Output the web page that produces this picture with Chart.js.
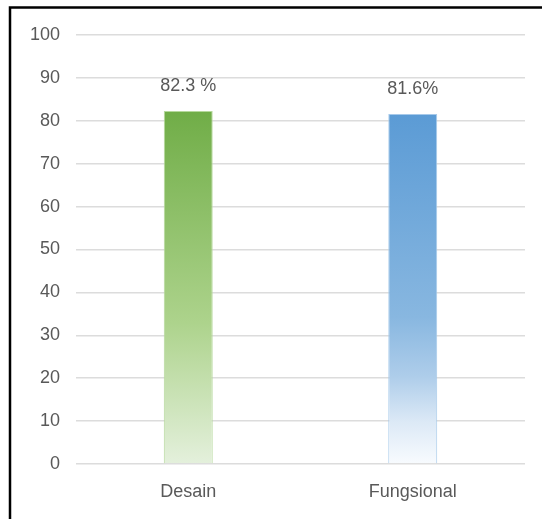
<!DOCTYPE html>
<html>
<head>
<meta charset="utf-8">
<script src="https://cdn.jsdelivr.net/npm/chart.js@4"></script>
<style>
  html, body { margin: 0; padding: 0; background: #ffffff; }
  #wrap { position: relative; width: 542px; height: 519px; }
</style>
</head>
<body>
<div id="wrap"><canvas id="chart" width="542" height="519"></canvas></div>
<script>
// Chart data
const categories = ['Desain', 'Fungsional'];
const values = [82.3, 81.6];
const valueLabels = ['82.3 %', '81.6%'];
const yTicks = [0, 10, 20, 30, 40, 50, 60, 70, 80, 90, 100];

// Vertical fade for each bar: [offset from bottom, colour]
const barStops = [
  [[0, '#e4f0dc'], [0.4, '#add38c'], [1, '#70ad47']],
  [[0, '#f8fbfe'], [0.12, '#dce9f6'], [0.25, '#aecdea'], [0.42, '#88b7e0'], [1, '#5b9bd5']]
];
const barEdges = ['#b6d99c', '#a6c9ea'];

const TEXT = '#595959';
const FONT = "'Liberation Sans', Arial, sans-serif";

function barFill(ctx) {
  const chart = ctx.chart;
  const area = chart.chartArea;
  const stops = barStops[ctx.dataIndex];
  if (!area) return stops[stops.length - 1][1];
  const y = chart.scales.y;
  const top = y.getPixelForValue(values[ctx.dataIndex]);
  const bottom = y.getPixelForValue(0);
  const g = chart.ctx.createLinearGradient(0, bottom, 0, top);
  stops.forEach(([o, c]) => g.addColorStop(o, c));
  return g;
}

// Draws the value text above each bar
const valueText = {
  id: 'valueText',
  afterDatasetsDraw(chart) {
    const ctx = chart.ctx;
    const meta = chart.getDatasetMeta(0);
    ctx.save();
    ctx.fillStyle = TEXT;
    ctx.font = '18px ' + FONT;
    ctx.textAlign = 'center';
    ctx.textBaseline = 'middle';
    meta.data.forEach((bar, i) => {
      ctx.fillText(valueLabels[i], bar.x, bar.y - 25);
    });
    ctx.restore();
  }
};

// Black frame along the top and left edges
const frame = {
  id: 'frame',
  afterDraw(chart) {
    const ctx = chart.ctx;
    ctx.save();
    ctx.strokeStyle = '#000000';
    ctx.lineWidth = 2.5;
    ctx.beginPath();
    ctx.moveTo(10, chart.height);
    ctx.lineTo(10, 7.5);
    ctx.lineTo(chart.width, 7.5);
    ctx.stroke();
    ctx.restore();
  }
};

new Chart(document.getElementById('chart'), {
  type: 'bar',
  data: {
    labels: categories,
    datasets: [{
      data: values,
      backgroundColor: barFill,
      borderColor: barEdges,
      borderWidth: 1,
      barPercentage: 0.218,
      categoryPercentage: 1
    }]
  },
  options: {
    responsive: false,
    animation: false,
    events: [],
    layout: { padding: { top: 35, right: 17, bottom: 0, left: 0 } },
    plugins: {
      legend: { display: false },
      tooltip: { enabled: false }
    },
    scales: {
      x: {
        grid: { display: false, drawTicks: false },
        border: { display: false },
        ticks: { color: TEXT, font: { family: FONT, size: 18 }, padding: 17 },
        afterFit(s) { s.height = 55; }
      },
      y: {
        min: 0,
        max: 100,
        afterBuildTicks(s) { s.ticks = yTicks.map(v => ({ value: v })); },
        grid: { color: '#dcdcdc', lineWidth: 1.5, drawTicks: false },
        border: { display: false },
        ticks: { color: TEXT, font: { family: FONT, size: 18 }, padding: 16 },
        afterFit(s) { s.width = 76; }
      }
    }
  },
  plugins: [valueText, frame]
});
</script>
</body>
</html>
